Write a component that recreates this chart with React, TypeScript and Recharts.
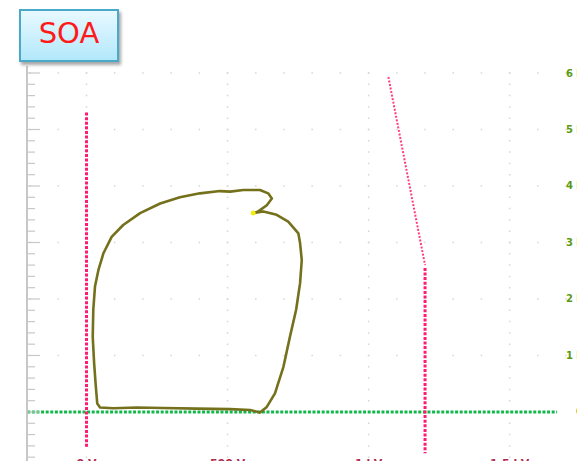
import React from 'react';
import { LineChart, Line, XAxis, YAxis, CartesianGrid } from 'recharts';

// voltage (V) / current (kA) traces
const loopTrace = [
  { v: 591, i: 3.52 },
  { v: 627, i: 3.55 },
  { v: 674, i: 3.49 },
  { v: 715, i: 3.37 },
  { v: 751, i: 3.16 },
  { v: 757, i: 2.99 },
  { v: 763, i: 2.69 },
  { v: 757, i: 2.28 },
  { v: 743, i: 1.81 },
  { v: 721, i: 1.33 },
  { v: 698, i: 0.8 },
  { v: 668, i: 0.33 },
  { v: 639, i: 0.09 },
  { v: 615, i: -0.01 },
  { v: 580, i: 0.035 },
  { v: 509, i: 0.05 },
  { v: 391, i: 0.06 },
  { v: 272, i: 0.07 },
  { v: 178, i: 0.08 },
  { v: 95, i: 0.065 },
  { v: 48, i: 0.08 },
  { v: 38, i: 0.15 },
  { v: 33, i: 0.45 },
  { v: 27, i: 0.86 },
  { v: 22, i: 1.33 },
  { v: 24, i: 1.81 },
  { v: 30, i: 2.22 },
  { v: 42, i: 2.51 },
  { v: 60, i: 2.81 },
  { v: 89, i: 3.1 },
  { v: 130, i: 3.31 },
  { v: 190, i: 3.52 },
  { v: 261, i: 3.69 },
  { v: 331, i: 3.8 },
  { v: 402, i: 3.87 },
  { v: 473, i: 3.91 },
  { v: 509, i: 3.9 },
  { v: 556, i: 3.93 },
  { v: 615, i: 3.93 },
  { v: 644, i: 3.87 },
  { v: 657, i: 3.78 },
  { v: 639, i: 3.66 },
  { v: 609, i: 3.55 },
  { v: 591, i: 3.52 },
];
const startPoint = [{ v: 591, i: 3.52 }];

const zeroCurrent = [{ v: -210, i: 0 }, { v: 1668, i: 0 }];
const cursorLeft = [{ v: 0, i: 5.3 }, { v: 0, i: -0.64 }];
const cursorRight = [{ v: 1200, i: 2.55 }, { v: 1200, i: -0.73 }];
const limitSlope = [{ v: 1070, i: 5.93 }, { v: 1200, i: 2.6 }];

const voltTicks = [-100, 0, 100, 200, 300, 400, 500, 600, 700, 800, 900, 1000, 1100, 1200, 1300, 1400, 1500, 1600, 1700];
const voltLabels: Record<number, string> = { 0: '0 V', 500: '500 V', 1000: '1 kV', 1500: '1.5 kV' };
const ampLabels: Record<number, string> = { 0: '0', 1: '1 k', 2: '2 k', 3: '3 k', 4: '4 k', 5: '5 k', 6: '6 k' };
const ampTicks = Array.from({ length: 36 }, (_, k) => Math.round((-1 + k * 0.2) * 10) / 10);

const FONT = '"DejaVu Sans", Verdana, sans-serif';

const VoltTick = (props: any) => {
  const { x, y, payload } = props;
  const label = voltLabels[payload.value];
  if (label) {
    return (
      <text x={x} y={y - 3} textAnchor="middle" fontSize={11} fontWeight="bold" fill="#b02a52" fontFamily={FONT}>
        {label}
      </text>
    );
  }
  return <line x1={x} y1={y} x2={x} y2={y - 7} stroke="#a8a8a8" strokeWidth={1} />;
};

const AmpTick = (props: any) => {
  const { x, y, payload } = props;
  const major = Math.abs(payload.value - Math.round(payload.value)) < 1e-6;
  const label = ampLabels[payload.value];
  return (
    <g>
      <line x1={x} y1={y} x2={x + (major ? 13 : 8)} y2={y} stroke="#c8c8c8" strokeWidth={1.2} />
      {label && (
        <text x={583} y={y + 3.5} textAnchor="end" fontSize={10} fontWeight="bold" fill="#5a9a12" fontFamily={FONT}>
          {label}
        </text>
      )}
    </g>
  );
};

export default function App() {
  return (
    <div style={{ position: 'relative', width: 585, height: 469, margin: -8, overflow: 'hidden', background: '#fff' }}>
      <LineChart width={585} height={480} margin={{ top: 66, right: 0, bottom: 0, left: 0 }}>
        <CartesianGrid
          vertical={false}
          horizontalValues={[1, 2, 3, 4, 5, 6]}
          stroke="#d6d6d6"
          strokeWidth={1.5}
          strokeDasharray="1.5 26.71"
          strokeDashoffset={25.88}
        />
        <CartesianGrid
          horizontal={false}
          verticalValues={[0, 500, 1000, 1500]}
          stroke="#d6d6d6"
          strokeWidth={1.5}
          strokeDasharray="1.5 9.8"
          strokeDashoffset={5.05}
        />
        <XAxis
          type="number"
          dataKey="v"
          domain={[-211, 1767]}
          ticks={voltTicks}
          interval={0}
          height={10}
          axisLine={false}
          tickLine={false}
          tickSize={0}
          tickMargin={0}
          tick={<VoltTick />}
          allowDataOverflow
        />
        <YAxis
          type="number"
          dataKey="i"
          domain={[-1.027, 6.124]}
          ticks={ampTicks}
          interval={0}
          width={27}
          axisLine={{ stroke: '#b4b4b4', strokeWidth: 1.5 }}
          tickLine={false}
          tickSize={0}
          tickMargin={0}
          tick={<AmpTick />}
          allowDataOverflow
        />
        <Line data={zeroCurrent} dataKey="i" stroke="#12b84a" strokeWidth={3} strokeDasharray="3 1.6" dot={false} isAnimationActive={false} />
        <Line data={cursorLeft} dataKey="i" stroke="#ff1a72" strokeWidth={3} strokeDasharray="3 1.6" dot={false} isAnimationActive={false} />
        <Line data={cursorRight} dataKey="i" stroke="#ff1a72" strokeWidth={3} strokeDasharray="3 1.6" dot={false} isAnimationActive={false} />
        <Line data={limitSlope} dataKey="i" stroke="#ff3d80" strokeWidth={2} strokeDasharray="2 1.6" dot={false} isAnimationActive={false} />
        <Line data={loopTrace} dataKey="i" type="linear" stroke="#74701c" strokeWidth={2.6} strokeLinejoin="round" dot={false} isAnimationActive={false} />
        <Line data={startPoint} dataKey="i" stroke="none" dot={{ r: 2.5, fill: '#f2ec10', stroke: 'none' }} isAnimationActive={false} />
      </LineChart>
      <div
        style={{
          position: 'absolute',
          left: 19,
          top: 9,
          width: 96,
          height: 45,
          border: '2px solid #4aa9c9',
          background: 'linear-gradient(#e8f9ff, #b2e8fb)',
          boxShadow: '2px 3px 3px rgba(0,0,0,0.35)',
          display: 'flex',
          alignItems: 'center',
          justifyContent: 'center',
          fontFamily: FONT,
          fontSize: 29,
          color: '#ff1a1a',
          lineHeight: 1,
          paddingBottom: 4,
          boxSizing: 'content-box',
        }}
      >
        SOA
      </div>
    </div>
  );
}
